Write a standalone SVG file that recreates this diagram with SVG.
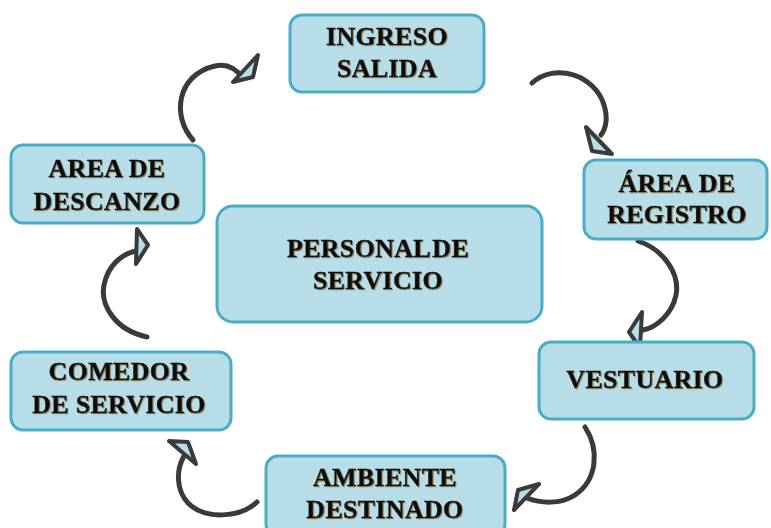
<svg xmlns="http://www.w3.org/2000/svg" width="771" height="528" viewBox="0 0 771 528">
<defs>
<style>
.box{fill:#b7dde8;stroke:#4bacc6;stroke-width:3}
.lbl{font-family:"Liberation Serif","Times New Roman",serif;font-weight:bold;font-size:26px;fill:#111;stroke:#111;stroke-width:0.4;text-anchor:middle;letter-spacing:0.3px}
.arc{fill:none;stroke:#3a3a3a;stroke-width:5;stroke-linecap:round}
.head{fill:#b7dde8;stroke:#3a3a3a;stroke-width:4;stroke-linejoin:round}
</style>
<filter id="sh" x="-5%" y="-5%" width="110%" height="120%">
<feDropShadow dx="1" dy="1" stdDeviation="0.3" flood-color="#8a6a30" flood-opacity="0.7"/>
</filter>
</defs>
<rect width="771" height="528" fill="#ffffff"/>
<g id="connectors">
<path class="arc" d="M193,140 C172,117 176,75 215,66 C228,63 237,70 243,78"/>
<polygon class="head" points="258,55 253,77 233,82"/>
<path class="arc" d="M532,83 C555,62 595,75 604,105 C608,118 606,128 601,135"/>
<polygon class="head" points="586,127 592,151 612,154"/>
<path class="arc" d="M638,241 C665,250 680,275 676,295 C672,315 655,328 643,330"/>
<polygon class="head" points="642,312 629,332 640,348"/>
<path class="arc" d="M585,427 C600,450 597,480 575,495 C560,505 540,503 527,498"/>
<polygon class="head" points="539,484 518,490 514,510"/>
<path class="arc" d="M257,502 C240,518 205,520 188,503 C176,490 176,470 184,456"/>
<polygon class="head" points="169,441 188,442 196,464"/>
<path class="arc" d="M147,337 C115,330 100,305 104,285 C108,265 122,254 136,251"/>
<polygon class="head" points="137,229 148,245 136,264"/>
</g>
<g id="ingreso">
<rect class="box" x="290" y="15" width="194" height="77" rx="12"/>
<text class="lbl" filter="url(#sh)" x="387" y="45">INGRESO</text>
<text class="lbl" filter="url(#sh)" x="387" y="77">SALIDA</text>
</g>
<g id="registro">
<rect class="box" x="584" y="160" width="183" height="79" rx="12"/>
<text class="lbl" filter="url(#sh)" x="677" y="192">ÁREA DE</text>
<text class="lbl" filter="url(#sh)" x="677" y="223">REGISTRO</text>
</g>
<g id="vestuario">
<rect class="box" x="539" y="342" width="215" height="77" rx="12"/>
<text class="lbl" filter="url(#sh)" x="645" y="388">VESTUARIO</text>
</g>
<g id="ambiente">
<rect class="box" x="266" y="456" width="239" height="80" rx="12"/>
<text class="lbl" filter="url(#sh)" x="385" y="486">AMBIENTE</text>
<text class="lbl" filter="url(#sh)" x="385" y="518">DESTINADO</text>
</g>
<g id="comedor">
<rect class="box" x="11" y="352" width="220" height="78" rx="12"/>
<text class="lbl" filter="url(#sh)" x="119" y="380">COMEDOR</text>
<text class="lbl" filter="url(#sh)" x="119" y="413">DE SERVICIO</text>
</g>
<g id="descanzo">
<rect class="box" x="11" y="145" width="193" height="78" rx="12"/>
<text class="lbl" filter="url(#sh)" x="107" y="177">AREA DE</text>
<text class="lbl" filter="url(#sh)" x="107" y="210">DESCANZO</text>
</g>
<g id="personal">
<rect class="box" x="217" y="206" width="325" height="116" rx="16"/>
<text class="lbl" filter="url(#sh)" x="378" y="257" word-spacing="-4">PERSONAL DE</text>
<text class="lbl" filter="url(#sh)" x="378" y="289">SERVICIO</text>
</g>
</svg>
